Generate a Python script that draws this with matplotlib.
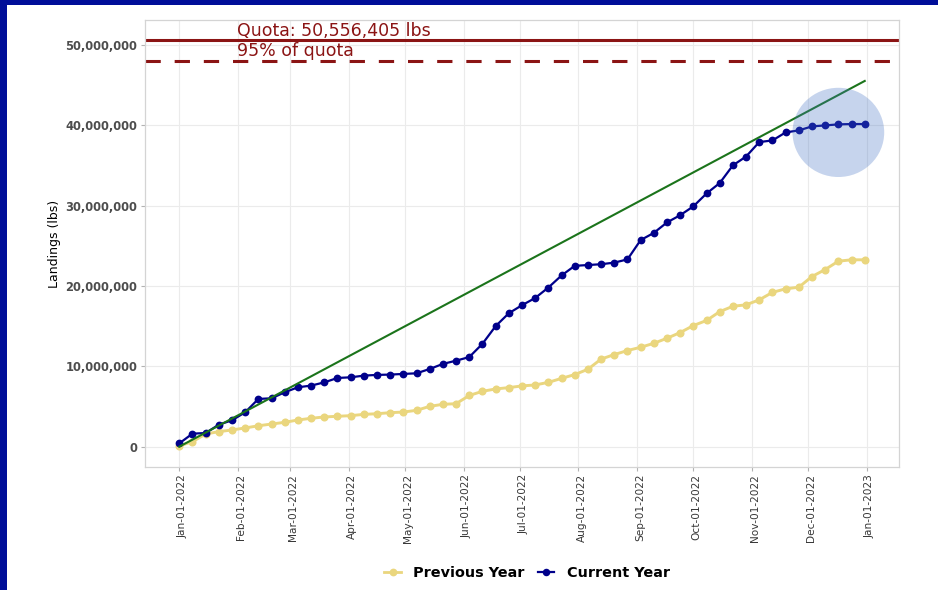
import matplotlib
matplotlib.use('Agg')
import matplotlib.pyplot as plt
import matplotlib.dates as mdates
import matplotlib.transforms as mtransforms
from matplotlib.patches import Ellipse, Rectangle
from matplotlib.lines import Line2D
from matplotlib.ticker import FixedLocator, FuncFormatter
import pandas as pd

plt.rcParams['font.family'] = ['DejaVu Sans']
plt.rcParams['lines.scale_dashes'] = False

# ---------------- data ----------------
first_week = '2022-01-01'
dates = pd.date_range(first_week, periods=53, freq='7D')

current_year = [
    0.41e6, 1.62e6, 1.70e6, 2.74e6, 3.28e6, 4.28e6, 5.94e6, 6.02e6, 6.77e6, 7.39e6,
    7.60e6, 8.00e6, 8.55e6, 8.63e6, 8.84e6, 8.93e6, 8.97e6, 9.05e6, 9.13e6, 9.67e6,
    10.3e6, 10.7e6, 11.15e6, 12.8e6, 15.0e6, 16.6e6, 17.6e6, 18.5e6, 19.8e6, 21.3e6,
    22.5e6, 22.6e6, 22.7e6, 22.9e6, 23.3e6, 25.7e6, 26.6e6, 27.9e6, 28.8e6, 29.9e6,
    31.5e6, 32.8e6, 35.0e6, 36.1e6, 37.9e6, 38.1e6, 39.1e6, 39.35e6, 39.85e6, 39.97e6,
    40.1e6, 40.14e6, 40.14e6,
]

previous_year = [
    0.10e6, 0.62e6, 1.58e6, 1.87e6, 2.08e6, 2.33e6, 2.60e6, 2.82e6, 3.03e6, 3.32e6,
    3.53e6, 3.70e6, 3.78e6, 3.86e6, 4.02e6, 4.10e6, 4.23e6, 4.31e6, 4.52e6, 5.02e6,
    5.27e6, 5.35e6, 6.37e6, 6.89e6, 7.18e6, 7.35e6, 7.56e6, 7.68e6, 8.00e6, 8.50e6,
    8.97e6, 9.63e6, 10.9e6, 11.46e6, 11.96e6, 12.37e6, 12.86e6, 13.49e6, 14.2e6, 15.07e6,
    15.7e6, 16.8e6, 17.47e6, 17.65e6, 18.27e6, 19.2e6, 19.64e6, 19.84e6, 21.17e6, 22.04e6,
    23.08e6, 23.25e6, 23.25e6,
]

quota = 50_556_405
quota_95 = 48_028_585
quota_label = 'Quota: 50,556,405 lbs'
quota_95_label = '95% of quota'

pace_dates = pd.to_datetime(['2022-01-01', '2022-12-31'])
pace_values = [0, 45_500_000]

month_ticks = pd.date_range('2022-01-01', '2023-01-01', freq='MS')
y_ticks = [0, 10_000_000, 20_000_000, 30_000_000, 40_000_000, 50_000_000]

series_names = ['Previous Year', 'Current Year']

# highlight circle annotation
highlight_center_date = '2022-12-17'
highlight_center_value = 39.1e6

# ---------------- style ----------------
col_prev = '#EAD67E'
col_curr = '#00008B'
col_pace = '#1B741B'
col_quota = '#8B1414'
col_frame = '#000E99'
col_grid = '#EBEBEB'
col_tick_text = '#4D4D4D'
col_xtick_text = '#383838'

W, H = 938, 590
fig = plt.figure(figsize=(W / 100, H / 100), dpi=100)
fig.patch.set_facecolor('white')

# navy slide frame (left and top)
fig.patches.append(Rectangle((0, 0), 7 / W, 1, transform=fig.transFigure,
                             facecolor=col_frame, edgecolor='none', zorder=0))
fig.patches.append(Rectangle((0, 1 - 5 / H), 1, 5 / H, transform=fig.transFigure,
                             facecolor=col_frame, edgecolor='none', zorder=0))

left, right, top, bottom = 145, 899, 20, 467
ax = fig.add_axes([left / W, 1 - bottom / H, (right - left) / W, (bottom - top) / H])
ax.set_facecolor('white')

# lines
ax.plot(dates, previous_year, color=col_prev, lw=2.1, marker='o', ms=5.8,
        markeredgewidth=0, zorder=3)
ax.plot(dates, current_year, color=col_curr, lw=1.6, marker='o', ms=5.6,
        markeredgewidth=0, zorder=4)
ax.plot(pace_dates, pace_values, color=col_pace, lw=1.5, zorder=5)

ax.axhline(quota, color=col_quota, lw=2.2, zorder=2)
ax.axhline(quota_95, color=col_quota, lw=2.2, zorder=2, linestyle=(0, (11, 10)))

# labels on quota lines
x_text = mdates.date2num(pd.Timestamp('2022-02-01'))
tr_q = mtransforms.offset_copy(ax.transData, fig=fig, x=-1, y=4, units='dots')
tr_q95 = mtransforms.offset_copy(ax.transData, fig=fig, x=-1, y=5, units='dots')
ax.text(x_text, quota, quota_label, transform=tr_q, ha='left', va='baseline',
        fontsize=12.5, color=col_quota, zorder=6)
ax.text(x_text, quota_95, quota_95_label, transform=tr_q95, ha='left', va='baseline',
        fontsize=12.5, color=col_quota, zorder=6)

# highlight circle
ax.add_patch(Ellipse((mdates.date2num(pd.Timestamp(highlight_center_date)), highlight_center_value),
                     width=48.7, height=11.1e6, facecolor='#4472C4', alpha=0.3,
                     edgecolor='none', zorder=10))

# axes limits (ggplot-like 5% expansion)
x0 = mdates.date2num(pd.Timestamp('2022-01-01'))
x1 = mdates.date2num(pd.Timestamp('2022-12-31'))
xpad = (x1 - x0) * 0.05
ax.set_xlim(x0 - xpad, x1 + xpad)
ypad = quota * 0.05
ax.set_ylim(-ypad, quota + ypad)

# ticks
ax.xaxis.set_major_locator(FixedLocator(mdates.date2num(month_ticks)))
ax.xaxis.set_major_formatter(mdates.DateFormatter('%b-%d-%Y'))
ax.yaxis.set_major_locator(FixedLocator(y_ticks))
ax.yaxis.set_major_formatter(FuncFormatter(lambda v, p: f'{int(round(v)):,}'))

ax.tick_params(axis='x', labelsize=7.6, labelcolor=col_xtick_text, length=3,
               color='#B3B3B3', width=0.8, pad=2.0)
ax.tick_params(axis='y', labelsize=8.3, labelcolor=col_tick_text, length=3,
               color='#B3B3B3', width=0.8, pad=2.5)
shift = mtransforms.ScaledTranslation(3 / 100, 0, fig.dpi_scale_trans)
for lbl in ax.get_xticklabels():
    lbl.set_rotation(90)
    lbl.set_ha('center')
    lbl.set_va('top')
    lbl.set_transform(lbl.get_transform() + shift)
for lbl in ax.get_yticklabels():
    lbl.set_fontweight('bold')

ax.grid(True, color=col_grid, lw=0.8, zorder=0)
ax.set_axisbelow(True)
for s in ax.spines.values():
    s.set_color('#D4D4D4')
    s.set_linewidth(0.9)

ax.set_ylabel('Landings (lbs)', fontsize=9, color='black')
ax.yaxis.set_label_coords(-0.111, 0.5)

# legend
handles = [
    Line2D([], [], color=col_prev, lw=2.0, marker='o', ms=5.6, markeredgewidth=0),
    Line2D([], [], color=col_curr, lw=1.6, marker='o', ms=5.4, markeredgewidth=0),
]
leg = fig.legend(handles, series_names, loc='center', bbox_to_anchor=(527 / W, 1 - 573 / H),
                 ncol=2, frameon=False, handlelength=1.15, handletextpad=0.85,
                 columnspacing=0.9, borderpad=0, prop={'weight': 'bold', 'size': 10.4})
for t in leg.get_texts():
    t.set_color('black')

fig.savefig('out.png', dpi=100)
